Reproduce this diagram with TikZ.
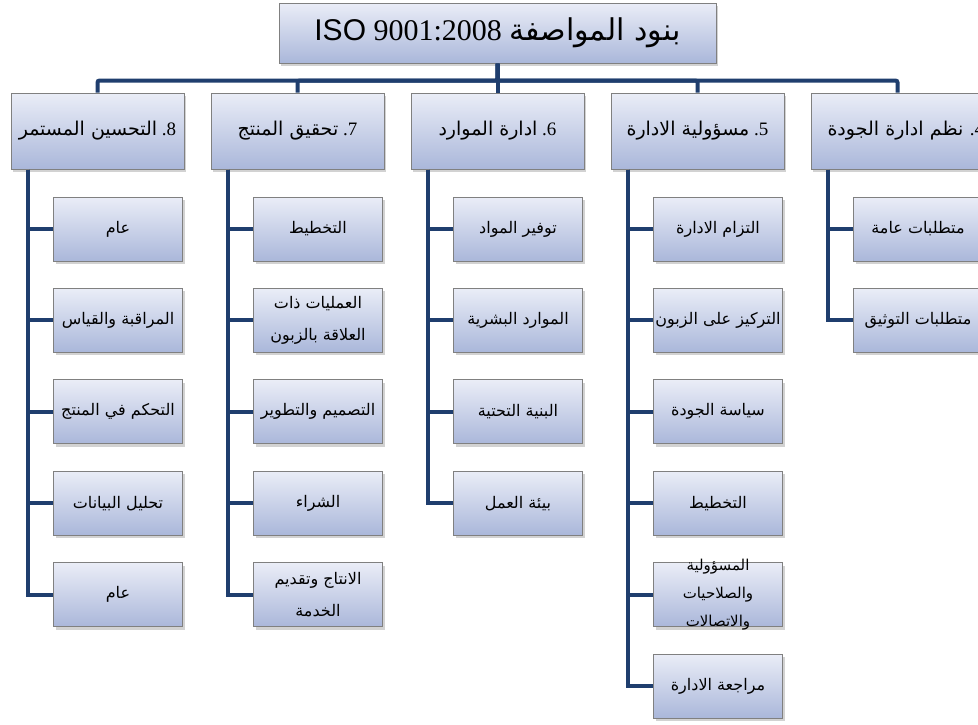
\documentclass[tikz,border=0pt]{standalone}
\usepackage{fontspec}
\setmainfont{Liberation Serif}
\newfontfamily\arabicfont[Script=Arabic]{DejaVu Sans}
\newfontfamily\isofont{Liberation Sans}
\TeXXeTstate=1
\usetikzlibrary{shadows}

\definecolor{linkblue}{RGB}{31,62,110}
\definecolor{boxtop}{RGB}{234,237,247}
\definecolor{boxbot}{RGB}{170,183,218}
\definecolor{boxline}{RGB}{128,128,128}

\newcommand{\ar}[1]{{\arabicfont\beginR #1\endR}}

\tikzset{
    box/.style={draw=boxline, line width=1pt, top color=boxtop, bottom color=boxbot,
        drop shadow={shadow xshift=2pt, shadow yshift=-3pt, opacity=0.35},
        inner sep=0pt, align=center},
    titlebox/.style={box, minimum width=437pt, minimum height=60pt, font=\fontsize{30}{34}\selectfont},
    headbox/.style={box, minimum width=173pt, minimum height=76pt, font=\fontsize{19}{23}\selectfont},
    subbox/.style={box, minimum width=129pt, minimum height=64pt, font=\fontsize{16}{32}\selectfont},
    plain/.style={},
    tight/.style={font=\fontsize{15}{28}\selectfont, inner ysep=-4pt},
    link/.style={draw=linkblue, line width=4pt},
}

\begin{document}
\begin{tikzpicture}[x=1pt, y=-1pt]
    \useasboundingbox[fill=white] (0,0) rectangle (978,724);

    % Title
    \node[titlebox] (iso) at (497.5,33) {{\isofont ISO} 9001:2008\ \ar{بنود المواصفة}};

    % Main clauses
    \node[headbox] (h8) at (97.5,131) {\ar{التحسين المستمر}\ .8};
    \node[headbox] (h7) at (297.5,131) {\ar{تحقيق المنتج}\ .7};
    \node[headbox] (h6) at (497.5,131) {\ar{ادارة الموارد}\ .6};
    \node[headbox] (h5) at (697.5,131) {\ar{مسؤولية الادارة}\ .5};
    \node[headbox, text width=173pt, align=right] (h4) at (897.5,131) {\ar{نظم ادارة الجودة}\ .4};

    \foreach \k in {4,...,8} {
        \draw[link, rounded corners=2pt] (iso.south) -- ++(0,17) -| (h\k.north);
    }

    % 8. continual improvement
    \foreach \txt [count=\j] in {\ar{عام}, \ar{المراقبة والقياس}, \ar{التحكم في المنتج}, \ar{تحليل البيانات}, \ar{عام}} {
        \node[subbox] (s8-\j) at (118,137.6+91.4*\j) {\txt};
        \draw[link] ([xshift=17pt]h8.south west) |- (s8-\j.west);
    }

    % 7. product realization
    \foreach \txt [count=\j] in {\ar{التخطيط}, {\ar{العمليات ذات}\\\ar{العلاقة بالزبون}}, \ar{التصميم والتطوير}, \ar{الشراء}, {\ar{الانتاج وتقديم}\\\ar{الخدمة}}} {
        \node[subbox] (s7-\j) at (318,137.6+91.4*\j) {\txt};
        \draw[link] ([xshift=17pt]h7.south west) |- (s7-\j.west);
    }

    % 6. resource management
    \foreach \txt [count=\j] in {\ar{توفير المواد}, \ar{الموارد البشرية}, \ar{البنية التحتية}, \ar{بيئة العمل}} {
        \node[subbox] (s6-\j) at (518,137.6+91.4*\j) {\txt};
        \draw[link] ([xshift=17pt]h6.south west) |- (s6-\j.west);
    }

    % 5. management responsibility
    \foreach \txt/\sty [count=\j] in {\ar{التزام الادارة}/plain, \ar{التركيز على الزبون}/plain, \ar{سياسة الجودة}/plain, \ar{التخطيط}/plain,
            {\ar{المسؤولية}\\\ar{والصلاحيات}\\\ar{والاتصالات}}/tight, \ar{مراجعة الادارة}/plain} {
        \node[subbox, \sty] (s5-\j) at (718,137.6+91.4*\j) {\txt};
        \draw[link] ([xshift=17pt]h5.south west) |- (s5-\j.west);
    }

    % 4. quality management system
    \foreach \txt [count=\j] in {\ar{متطلبات عامة}, \ar{متطلبات التوثيق}} {
        \node[subbox] (s4-\j) at (918,137.6+91.4*\j) {\txt};
        \draw[link] ([xshift=17pt]h4.south west) |- (s4-\j.west);
    }
\end{tikzpicture}
\end{document}
